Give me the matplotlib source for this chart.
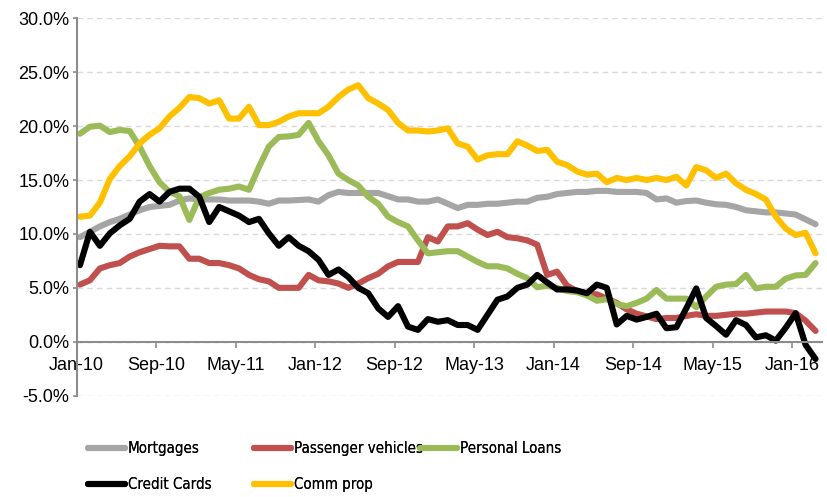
import numpy as np
import matplotlib
matplotlib.use('Agg')
import matplotlib.pyplot as plt
from matplotlib.lines import Line2D
from matplotlib import font_manager as fm

# monthly data, Jan-10 .. Mar-16 (y/y growth, %)
months = np.arange(75)
tick_labels = ['Jan-10', 'Sep-10', 'May-11', 'Jan-12', 'Sep-12',
               'May-13', 'Jan-14', 'Sep-14', 'May-15', 'Jan-16']

mortgages = [9.7, 10.2, 10.7, 11.1, 11.4, 11.8, 12.2, 12.5, 12.6, 12.7,
             13.1, 13.3, 13.2, 13.2, 13.2, 13.1, 13.1, 13.1, 13.0, 12.8,
             13.1, 13.1, 13.15, 13.2, 13.0, 13.6, 13.9, 13.8, 13.8, 13.8,
             13.8, 13.5, 13.2, 13.2, 13.0, 13.0, 13.2, 12.8, 12.4, 12.7,
             12.7, 12.8, 12.8, 12.9, 13.0, 13.0, 13.35, 13.45, 13.7, 13.8,
             13.9, 13.9, 14.0, 14.0, 13.9, 13.9, 13.9, 13.8, 13.2, 13.3,
             12.9, 13.05, 13.1, 12.9, 12.75, 12.7, 12.5, 12.2, 12.1, 12.0,
             12.0, 11.9, 11.8, 11.35, 10.9]

passenger = [5.3, 5.7, 6.8, 7.1, 7.3, 7.9, 8.3, 8.6, 8.9, 8.85,
             8.85, 7.7, 7.7, 7.3, 7.3, 7.1, 6.8, 6.2, 5.8, 5.6,
             5.0, 5.0, 5.0, 6.2, 5.7, 5.6, 5.4, 5.0, 5.4, 5.9,
             6.3, 7.0, 7.4, 7.4, 7.4, 9.7, 9.3, 10.7, 10.7, 11.0,
             10.4, 9.9, 10.2, 9.7, 9.6, 9.4, 9.0, 6.2, 6.5, 5.2,
             4.7, 4.4, 4.4, 4.0, 3.6, 3.0, 2.6, 2.35, 2.1, 2.2,
             2.2, 2.4, 2.55, 2.4, 2.4, 2.5, 2.6, 2.6, 2.7, 2.8,
             2.8, 2.8, 2.65, 1.95, 1.0]

personal = [19.3, 19.95, 20.05, 19.45, 19.65, 19.55, 18.1, 16.3, 14.8, 13.9,
            13.5, 11.3, 13.4, 13.8, 14.1, 14.2, 14.4, 14.1, 16.2, 18.1,
            19.0, 19.05, 19.2, 20.3, 18.6, 17.3, 15.6, 15.0, 14.5, 13.45,
            12.8, 11.6, 11.1, 10.7, 9.4, 8.2, 8.3, 8.4, 8.4, 7.9,
            7.4, 7.0, 7.0, 6.8, 6.3, 5.9, 5.05, 5.2, 5.0, 4.7,
            4.6, 4.3, 3.8, 3.95, 3.5, 3.3, 3.6, 4.0, 4.8, 4.0,
            4.0, 4.0, 3.2, 4.2, 5.1, 5.3, 5.35, 6.2, 4.95, 5.1,
            5.1, 5.85, 6.15, 6.2, 7.3]

credit_cards = [7.1, 10.2, 8.9, 10.05, 10.8, 11.4, 13.0, 13.7, 13.0, 13.9,
                14.2, 14.2, 13.45, 11.1, 12.5, 12.1, 11.7, 11.1, 11.4, 10.05,
                8.9, 9.7, 8.9, 8.4, 7.6, 6.2, 6.7, 6.0, 5.0, 4.5,
                3.1, 2.3, 3.3, 1.4, 1.1, 2.1, 1.85, 2.0, 1.55, 1.55,
                1.1, 2.5, 3.9, 4.2, 5.0, 5.3, 6.2, 5.5, 4.85, 4.85,
                4.75, 4.5, 5.3, 5.0, 1.6, 2.4, 2.05, 2.3, 2.6, 1.25,
                1.35, 3.1, 4.95, 2.2, 1.45, 0.65, 2.0, 1.55, 0.4, 0.6,
                0.1, 1.3, 2.65, -0.3, -1.6]

comm_prop = [11.6, 11.7, 12.9, 15.1, 16.3, 17.2, 18.4, 19.2, 19.8, 20.9,
             21.7, 22.7, 22.6, 22.1, 22.4, 20.7, 20.7, 21.8, 20.1, 20.1,
             20.4, 20.9, 21.2, 21.2, 21.2, 21.8, 22.7, 23.4, 23.8, 22.6,
             22.1, 21.5, 20.3, 19.6, 19.6, 19.5, 19.6, 19.8, 18.4, 18.1,
             16.9, 17.3, 17.4, 17.4, 18.6, 18.2, 17.7, 17.8, 16.7, 16.4,
             15.8, 15.5, 15.6, 14.8, 15.2, 15.0, 15.2, 15.0, 15.2, 15.0,
             15.3, 14.5, 16.2, 15.9, 15.2, 15.6, 14.7, 14.1, 13.7, 13.2,
             11.6, 10.5, 9.9, 10.1, 8.2]

series = [
    ('Mortgages', mortgages, '#A5A5A5'),
    ('Passenger vehicles', passenger, '#C0504D'),
    ('Personal Loans', personal, '#9BBB59'),
    ('Credit Cards', credit_cards, '#000000'),
    ('Comm prop', comm_prop, '#FFC000'),
]

plt.rcParams['font.family'] = ['Liberation Sans', 'DejaVu Sans']
plt.rcParams['font.size'] = 13

# legend text in the source is a narrow face; use one if there is one
condensed = [f for f in fm.fontManager.ttflist
             if f.name == 'DejaVu Sans' and f.stretch == 'condensed'
             and f.style == 'normal' and f.weight in (400, 'normal')]
if condensed:
    legend_prop = fm.FontProperties(fname=condensed[0].fname, size=10.8)
else:
    legend_prop = fm.FontProperties(family='Liberation Sans', size=10.5)

fig = plt.figure(figsize=(8.28, 4.97), dpi=100)
ax = fig.add_axes([0.0924, 0.204, 0.9, 0.759])

handles = {}
for name, vals, col in series:
    ln, = ax.plot(months, vals, color=col, lw=4.4, label=name,
                  solid_capstyle='round', solid_joinstyle='round')
    handles[name] = ln

offset = -0.35  # axis dates sit a little before the monthly points
ax.set_xlim(offset, 74.62)
ax.set_ylim(-5, 30)
ax.set_xticks(np.arange(0, 73, 8) + offset)
ax.set_xticklabels(tick_labels)
yt = np.arange(-5, 31, 5)
ax.set_yticks(yt)
ax.set_yticklabels(['{:.1f}%'.format(v) for v in yt])

ax.grid(axis='y', color='#D9D9D9', linestyle=(0, (4, 3)), lw=1.0)
ax.set_axisbelow(True)
for s in ['top', 'right']:
    ax.spines[s].set_visible(False)
ax.spines['bottom'].set_position(('data', 0))
ax.spines['bottom'].set_color('#8C8C8C')
ax.spines['left'].set_color('#8C8C8C')
ax.spines['bottom'].set_linewidth(1.5)
ax.spines['left'].set_linewidth(1.5)
ax.tick_params(axis='x', direction='out', length=4, width=1.2, color='#8C8C8C', pad=7, labelsize=13)
ax.tick_params(axis='y', direction='out', length=3, width=1.2, color='#8C8C8C', pad=2, labelsize=13)

# legend in three columns laid out like the source
groups = [(['Mortgages', 'Credit Cards'], 88), (['Passenger vehicles', 'Comm prop'], 254),
          (['Personal Loans'], 420)]
for names, xpx in groups:
    hs = [Line2D([], [], color=handles[n].get_color(), lw=4.4, solid_capstyle='round') for n in names]
    leg = fig.legend(hs, names, loc='upper left', bbox_to_anchor=(xpx / 828, 1 - 441 / 497),
                     frameon=False, borderpad=0, borderaxespad=0, handlelength=2.5,
                     handletextpad=0.15, labelspacing=1.4, prop=legend_prop)
    fig.add_artist(leg)

fig.savefig('out.png', dpi=100)
